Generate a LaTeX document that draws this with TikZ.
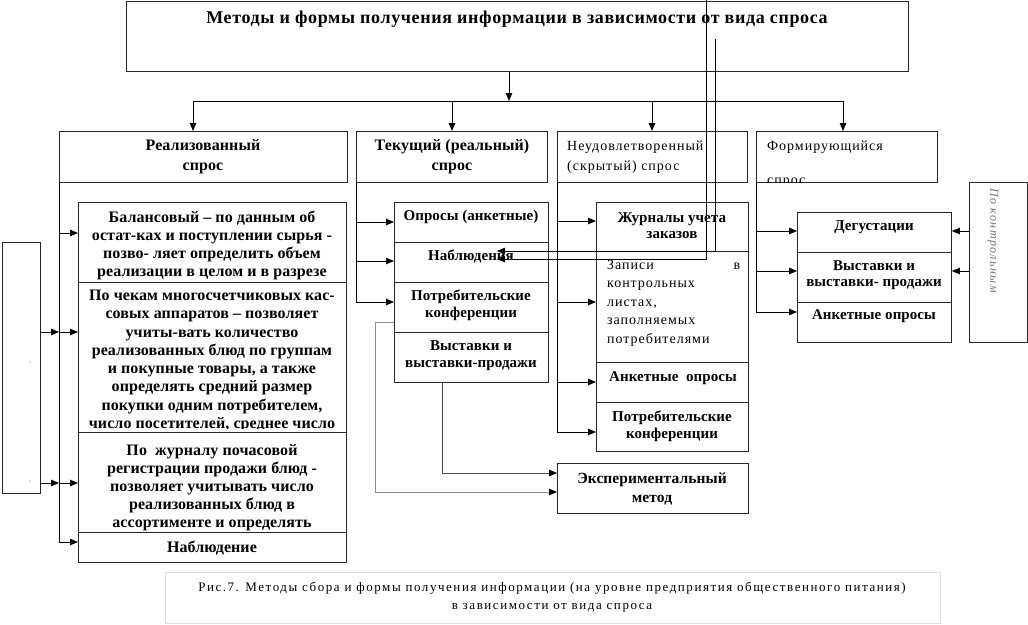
\documentclass[tikz,border=0pt]{standalone}
\usepackage{fontspec}
\setmainfont{Liberation Serif}
\newfontfamily\fb[LetterSpace=0.5]{Liberation Serif}
\newfontfamily\ft[LetterSpace=3.5]{Liberation Serif}
\newfontfamily\fr[LetterSpace=7]{Liberation Serif}
\newfontfamily\fc[LetterSpace=12]{Liberation Serif}
\usetikzlibrary{arrows.meta}
\begin{document}
\begin{tikzpicture}[x=1pt,y=-1pt,
  box/.style 2 args={draw=black!85, line width=0.8pt, inner sep=0pt, anchor=north west, minimum width=#1, minimum height=#2},
  bt/.style={font=\fb\bfseries\fontsize{16}{#1}\selectfont, align=center, inner sep=0pt},
  bt/.default=18.3,
  st/.style={font=\fb\bfseries\fontsize{15}{#1}\selectfont, align=center, inner sep=0pt},
  st/.default=17,
  rt/.style={font=\fr\fontsize{14}{#1}\selectfont, align=left, inner sep=0pt},
  rt/.default=18,
  ln/.style={draw=black, line width=0.8pt},
  arr/.style={draw=black, line width=0.8pt, -{Triangle[length=8pt,width=6.5pt]}},
  gl/.style={draw=black!45, line width=0.8pt, -{Triangle[length=8pt,width=6.5pt,color=black]}},
  gl2/.style={draw=black!70, line width=0.8pt, -{Triangle[length=8pt,width=6.5pt,color=black]}}]
\useasboundingbox (0,0) rectangle (1028,624);
\fill[white] (0,0) rectangle (1028,624);
% boxes
\node[box={782}{70}] (top) at (126,1) {};
\node[box={288}{51}] (h1) at (59,131) {};
\node[box={191}{51}] (h2) at (356,131) {};
\node[box={190}{51}] (h3) at (557,131) {};
\node[box={181}{51}] (h4) at (756,131) {};
\node[box={38}{251}] (lft) at (2,242) {};
\node[box={268}{80}] (r1) at (78,202) {};
\node[box={268}{150}] (r2) at (78,282) {};
\node[box={268}{100}] (r3) at (78,432) {};
\node[box={268}{30}] (r4) at (78,532) {};
\node[box={154}{40}] (t1) at (394,202) {};
\node[box={154}{40}] (t2) at (394,242) {};
\node[box={154}{50}] (t3) at (394,282) {};
\node[box={154}{50}] (t4) at (394,332) {};
\node[box={191}{50}] (ex) at (557,463) {};
\node[box={152}{49}] (u1) at (596,202) {};
\node[box={152}{111}] (u2) at (596,251) {};
\node[box={152}{40}] (u3) at (596,362) {};
\node[box={152}{49}] (u4) at (596,402) {};
\node[box={154}{40}] (f1) at (797,212) {};
\node[box={154}{50}] (f2) at (797,252) {};
\node[box={154}{40}] (f3) at (797,302) {};
\node[box={58}{160}] (pk) at (969,182) {};
\node[box={775}{51}, draw=black!12] (cap) at (165,572) {};
% texts
\node[bt, font=\ft\bfseries\fontsize{18}{20}\selectfont] (topt) at (517,19) {Методы и формы получения информации в зависимости от вида спроса};
\node[bt=19.5] (h1t) at (203,156.5) {Реализованный\\спрос};
\node[bt=19.5] (h2t) at (452,156.5) {Текущий (реальный)\\спрос};
\node[rt=20, anchor=west] (h3t) at (567,157) {Неудовлетворенный\\(скрытый) спрос};
\begin{scope}
\clip (h4.north west) rectangle (h4.south east);
\node[rt=33.5, anchor=west] (h4t) at (767,164) {Формирующийся\\спрос};
\end{scope}
\node[bt] (r1t) at (212,245.5) {Балансовый – по данным об\\остат-ках и поступлении сырья -\\позво- ляет определить объем\\реализации в целом и в разрезе};
\begin{scope}
\clip (r2.north west) rectangle ([yshift=4pt]r2.south east);
\node[bt] (r2t) at (212,361) {По чекам многосчетчиковых кас-\\совых аппаратов – позволяет\\учиты-вать количество\\реализованных блюд по группам\\и покупные товары, а также\\определять средний размер\\покупки одним потребителем,\\число посетителей, среднее число};
\end{scope}
\node[bt=18] (r3t) at (212,487.5) {По~ журналу почасовой\\регистрации продажи блюд -\\позволяет учитывать число\\реализованных блюд в\\ассортименте и определять};
\node[bt] (r4t) at (212,548) {Наблюдение};
\node[st] (t1t) at (471,217) {Опросы (анкетные)};
\node[st] (t2t) at (471,256) {Наблюдения};
\node[st=17] (t3t) at (471,305.5) {Потребительские\\конференции};
\node[st=17] (t4t) at (471,355.5) {Выставки и\\выставки-продажи};
\node[st=18.5, font=\fb\bfseries\fontsize{15.5}{18.5}\selectfont] (ext) at (652,489) {Экспериментальный\\метод};
\node[st=16] (u1t) at (672,225.5) {Журналы учета\\заказов};
\node[rt=18.5, anchor=west] (u2t) at (607,303) {\hbox to 133pt{Записи\hfill в}\\контрольных\\листах,\\заполняемых\\потребителями};
\node[st] (u3t) at (673,378) {Анкетные~ опросы};
\node[st=17] (u4t) at (672,426.5) {Потребительские\\конференции};
\node[st] (f1t) at (874,227) {Дегустации};
\node[st=16.5] (f2t) at (874,275) {Выставки и\\выставки- продажи};
\node[st] (f3t) at (874,316) {Анкетные опросы};
\node[font=\fc\itshape\fontsize{12}{14}\selectfont, text=black!55, rotate=-90, anchor=west, inner sep=0pt] (pkt) at (993,188) {По контрольным};
\node[font=\fontsize{7}{8}\selectfont, text=black!60, inner sep=0pt] (tk1) at (30,364) {'};
\node[font=\fontsize{7}{8}\selectfont, text=black!60, inner sep=0pt] (tk2) at (30,483) {'};
\node[font=\fc\fontsize{13}{18}\selectfont, align=center, inner sep=0pt] (capt) at (552,597) {Рис.7. Методы сбора и формы получения информации (на уровне предприятия общественного питания)\\в зависимости от вида спроса};
% connectors
\coordinate (j0) at (509,101);
\coordinate (jL) at (193,101);
\coordinate (j2) at (452,101);
\coordinate (j3) at (652,101);
\coordinate (jR) at (843,101);
\draw[arr] (top.south -| j0) -- (j0);
\draw[ln] (jL) -- (jR);
\draw[arr] (jL) -- (jL |- h1.north);
\draw[arr] (j2) -- (j2 |- h2.north);
\draw[arr] (j3) -- (j3 |- h3.north);
\draw[arr] (jR) -- (jR |- h4.north);
% realized
\draw[arr] (h1.south west) |- ([yshift=-10pt]r4.north west);
\draw[arr] (h1.south west |- 0,233) -- (r1.west |- 0,233);
\draw[arr] (h1.south west |- 0,332) -- (r2.west |- 0,332);
\draw[arr] (h1.south west |- 0,483) -- (r3.west |- 0,483);
\draw[arr] (lft.east |- 0,332) -- (h1.south west |- 0,332);
\draw[arr] (lft.east |- 0,483) -- (h1.south west |- 0,483);
% current
\draw[arr] (h2.south west) |- (t3.west |- 0,302);
\draw[arr] (h2.south west |- 0,222) -- (t1.west |- 0,222);
\draw[arr] (h2.south west |- 0,261) -- (t2.west |- 0,261);
\draw[gl] (t3.west |- 0,322) -| (375,492) -- (ex.west |- 0,492);
\draw[gl2] (t4.south -| 442,0) |- (ex.west |- 0,473);
% unsatisfied
\draw[arr] (h3.south west) |- (u4.west |- 0,432);
\draw[arr] (h3.south west |- 0,221) -- (u1.west |- 0,221);
\draw[arr] (h3.south west |- 0,302) -- (u2.west |- 0,302);
\draw[arr] (h3.south west |- 0,382) -- (u3.west |- 0,382);
% forming
\draw[arr] (h4.south west) |- (f3.west |- 0,312);
\draw[arr] (h4.south west |- 0,231) -- (f1.west |- 0,231);
\draw[arr] (h4.south west |- 0,271) -- (f2.west |- 0,271);
\draw[arr] (pk.west |- 0,231) -- (f1.east |- 0,231);
\draw[arr] (pk.west |- 0,271) -- (f2.east |- 0,271);
% crossing lines
\coordinate (cA) at (706,0);
\coordinate (cB) at (715,39);
\coordinate (tA) at (497,259);
\coordinate (tB) at (497,251);
\draw[arr] (cA) |- (tA);
\draw[arr] (cB) |- (tB);
\end{tikzpicture}
\end{document}
